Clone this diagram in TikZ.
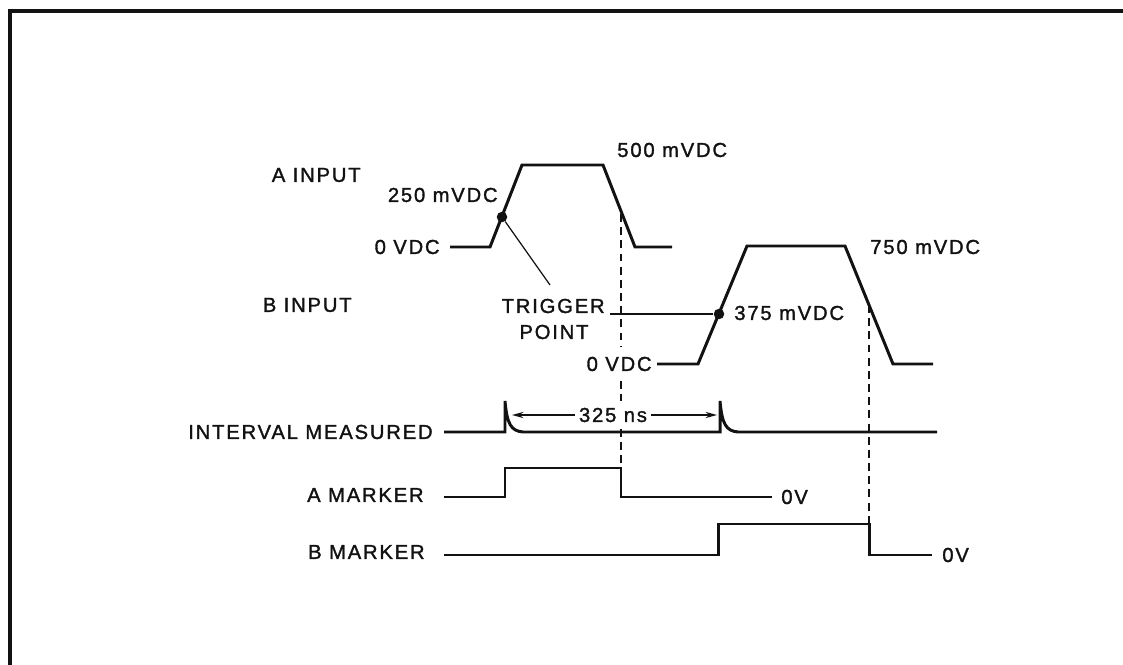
\documentclass[tikz,border=0pt]{standalone}
\usepackage{fontspec}
\usepackage{tikz}
\usetikzlibrary{arrows.meta,calc}
\newfontfamily\wavefont[LetterSpace=9,FakeBold=1.5]{Liberation Sans}
\definecolor{ink}{RGB}{18,18,18}

\begin{document}
\begin{tikzpicture}[x=0.02cm,y=-0.02cm,
  lbl/.style={font=\wavefont\fontsize{11.5}{14}\selectfont,inner sep=0pt,text=ink},
  wave/.style={line width=1.7pt,draw=ink,line join=miter},
  guide/.style={draw=ink,line width=0.8pt,dash pattern=on 4.5pt off 3pt},
  lead/.style={draw=ink,line width=0.7pt},
  tpoint/.style={circle,fill=ink,inner sep=0pt,minimum size=0.21cm}]
\useasboundingbox (0,0) rectangle (1123,665);
% frame
\draw[ink,line width=2.2pt] (10,665) -- (10,11) -- (1123,11);
% labels
\node[lbl,anchor=east] (ain) at (361,175) {A INPUT};
\node[lbl,anchor=east] (amv) at (498,195) {250 mVDC};
\node[lbl,anchor=east] (azero) at (440,247) {0 VDC};
\node[lbl,anchor=west] (atop) at (617,150) {500 mVDC};
\node[lbl,anchor=east] (bin) at (352,305) {B INPUT};
\node[lbl,anchor=east] (trig) at (605,306) {TRIGGER};
\node[lbl] (pt) at (554,332) {POINT};
\node[lbl,anchor=west] (bmv) at (734,313) {375 mVDC};
\node[lbl,anchor=east] (bzero) at (652,364) {0 VDC};
\node[lbl,anchor=west] (btop) at (870,247) {750 mVDC};
\node[lbl,anchor=east] (intv) at (433,432) {INTERVAL MEASURED};
\node[lbl] (ns) at (613,415) {325 ns};
\node[lbl,anchor=east] (amk) at (424,495) {A MARKER};
\node[lbl,anchor=west] (azv) at (781,497) {0V};
\node[lbl,anchor=east] (bmk) at (425,552) {B MARKER};
\node[lbl,anchor=west] (bzv) at (942,555) {0V};
% dashed timing guides (broken round the labels)
\foreach \ya/\yb in {214/347, 381/401, 429/468}
  \draw[guide] (621,\ya) -- (621,\yb);
\draw[guide] (869,305) -- (869,524);
% inputs
\draw[wave] (450,247) -- (490,247) -- (522,165) -- (603,165) -- (635,247) -- (672,247);
\draw[wave] (657,364) -- (698,364) -- (747,246) -- (845,246) -- (893,364) -- (933,364);
% interval measured
\draw[wave] (444,432) -- (505,432) -- (505,401) .. controls (507,424) and (511,431) .. (523,432)
  -- (720,432) -- (720,401) .. controls (722,424) and (726,431) .. (738,432) -- (937,432);
% markers
\draw[wave] (444,497) -- (505,497) -- (505,468) -- (621,468) -- (621,497) -- (772,497);
\draw[wave] (444,555) -- (718,555) -- (718,524) -- (869,524) -- (869,555) -- (932,555);
% trigger points
\node[tpoint] (tpA) at (502,217) {};
\node[tpoint] (tpB) at (719,314) {};
\coordinate (tip) at (550,285);
\draw[lead] (tpA) -- (tip);
\draw[lead] ([xshift=0.1cm]trig.east |- tpB) -- (tpB);
% 325 ns span
\coordinate (arrL) at (512,415);
\coordinate (arrR) at (717,415);
\draw[lead,-{Stealth[length=6.5pt,width=3.5pt]}] ([xshift=-0.08cm]ns.west) -- (arrL);
\draw[lead,-{Stealth[length=6.5pt,width=3.5pt]}] ([xshift=0.08cm]ns.east) -- (arrR);
\end{tikzpicture}
\end{document}
